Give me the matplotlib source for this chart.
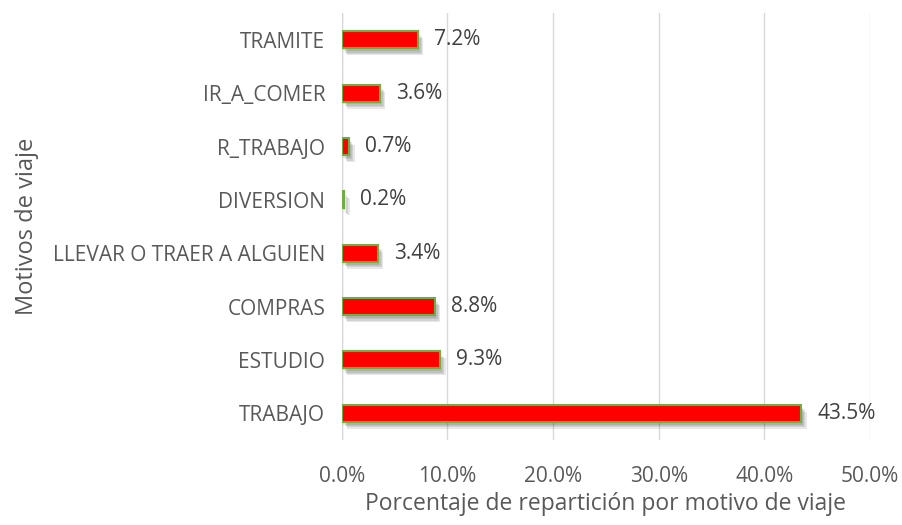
import matplotlib.pyplot as plt
import matplotlib.patheffects as pe
import numpy as np

## 데이터
motivos = ['TRABAJO', 'ESTUDIO', 'COMPRAS', 'LLEVAR O TRAER A ALGUIEN',
           'DIVERSION', 'R_TRABAJO', 'IR_A_COMER', 'TRAMITE']
porcentaje = [43.5, 9.3, 8.8, 3.4, 0.2, 0.7, 3.6, 7.2]
xticks = [0, 10, 20, 30, 40, 50]

plt.rcParams['font.family'] = ['Open Sans', 'DejaVu Sans']
gris = '#595959'

fig = plt.figure(figsize=(9.02, 5.25), dpi=100)
ax = fig.add_axes([0.379, 0.162, 0.5855, 0.813])

y = np.arange(len(motivos))
bars = ax.barh(y, porcentaje, height=0.32, color='#FF0000', edgecolor='#70AD47',
               linewidth=1.5, zorder=3)
## 흐린 그림자 흉내
sombra = [pe.SimplePatchShadow(offset=(1 + k, -2 - k), shadow_rgbFace='#404040', alpha=0.12)
          for k in range(4)]
for b in bars:
    b.set_path_effects(sombra + [pe.Normal()])

for yi, v in zip(y, porcentaje):
    ax.text(v + 1.5, yi, '%.1f%%' % v, va='center', ha='left', fontsize=15, color='#404040')

ax.set_xlim(0, 50)
ax.set_ylim(-0.5, len(motivos) - 0.5)
ax.set_xticks(xticks)
ax.set_xticklabels(['%.1f%%' % t for t in xticks])
ax.set_yticks(y)
ax.set_yticklabels(motivos)
ax.tick_params(axis='both', length=0, labelsize=15, labelcolor=gris)
ax.tick_params(axis='x', pad=19)
ax.tick_params(axis='y', pad=12)
ax.grid(axis='x', color='#D9D9D9', linewidth=1, zorder=0)
for s in ax.spines.values():
    s.set_visible(False)
ax.axvline(0, color='#D9D9D9', linewidth=1, zorder=1)

ax.set_xlabel('Porcentaje de repartición por motivo de viaje', fontsize=16.5, color=gris, labelpad=3)
ax.set_ylabel('Motivos de viaje', fontsize=17, color=gris, labelpad=10)

plt.savefig('out.png', dpi=100)
